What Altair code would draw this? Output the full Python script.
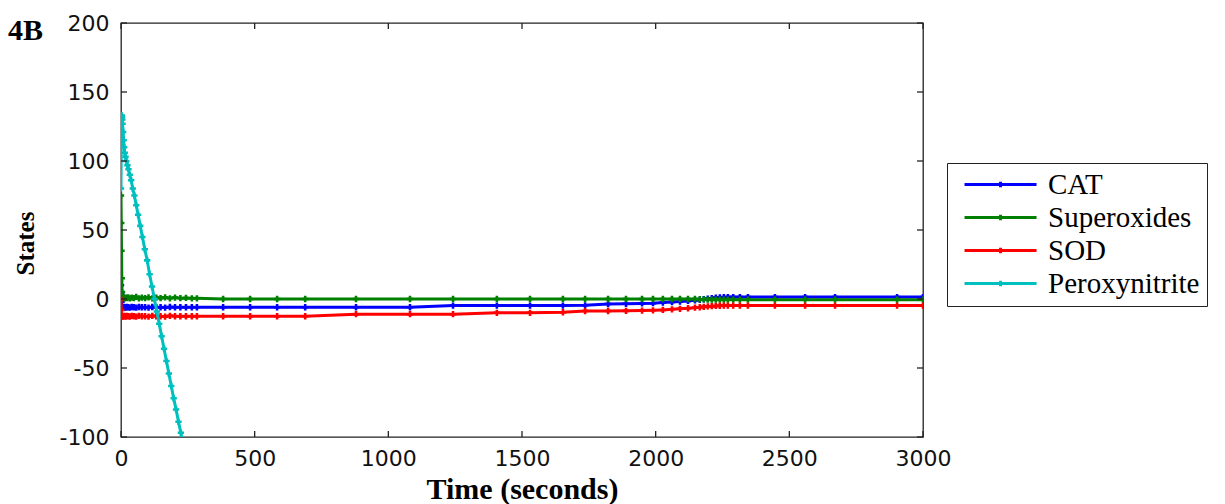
import altair as alt
import pandas as pd

# ---------------- data ----------------
series_names = ["CAT", "Superoxides", "SOD", "Peroxynitrite"]
series_colors = ["#0000FF", "#008000", "#FF0000", "#00BFBF"]

# shared solver time steps for CAT / Superoxides / SOD
t_main = [0, 1, 2, 3, 4, 6, 8, 11, 14, 18, 22, 27, 33, 40, 48, 57, 67, 78, 90,
          103, 117, 132, 148, 165, 183, 202, 222, 243, 265, 284,
          382, 483, 584, 689, 879, 1081, 1242, 1406, 1530, 1653, 1736, 1822,
          1889, 1949, 1990, 2027, 2061, 2091, 2121, 2147, 2165, 2180, 2195,
          2210, 2225, 2240, 2255, 2270, 2290, 2315, 2345, 2446, 2559, 2671,
          2903, 3000]

cat_vals = [10, 4, -2, -5, -6, -6, -6.2, -5.8, -6, -6.2, -5.8, -6, -6.2, -5.8,
            -6, -6.2, -5.8, -6, -6, -6.2, -5.8, -6, -6, -6.2, -5.8, -6, -6,
            -6, -6, -6,
            -6, -6, -6, -6, -6, -6, -4.8, -4.8, -4.8, -4.8, -4.6, -3.6,
            -3.5, -3.2, -3.0, -2.6, -2.2, -1.8, -1.4, -1.0, -0.6, -0.2, 0.2,
            0.6, 1.0, 1.2, 1.3, 1.4, 1.4, 1.4, 1.4, 1.4, 1.4, 1.4,
            1.4, 1.4]

sup_vals = [75, 55, 35, 15, 5, 1.5, 0.8, 1.2, 0.5, 1.0, 0.6, 1.2, 0.5, 1.0,
            0.6, 1.5, 0.5, 1.0, 0.6, 1.2, 0.5, 1.0, 0.6, 1.2, 0.5, 1.0, 0.6,
            0.8, 0.5, 0.5,
            0, 0, 0, 0, 0, 0, 0, 0, 0, 0, 0, 0,
            0, 0, 0, 0, 0, 0, 0, 0, -0.2, -0.3, -0.4,
            -0.5, -0.5, -0.5, -0.5, -0.5, -0.5, -0.5, -0.5, -0.5, -0.5, -0.5,
            -0.5, -0.5]

sod_vals = [0, -8, -12, -12.5, -12.5, -12.5, -12.8, -12.2, -12.5, -12.8, -12.2,
            -12.5, -12.8, -12.2, -12.5, -12.8, -12.2, -12.5, -12.5, -12.8,
            -12.2, -12.5, -12.5, -12.8, -12.2, -12.5, -12.5, -12.5, -12.5, -12.5,
            -12.5, -12.5, -12.5, -12.5, -11, -11, -11, -10, -10, -9.6, -8.7, -8.7,
            -8.6, -8.4, -8.2, -7.9, -7.5, -7.1, -6.7, -6.3, -6.0, -5.7, -5.4,
            -5.2, -5.0, -4.9, -4.8, -4.8, -4.8, -4.8, -4.8, -4.8, -4.8, -4.8,
            -4.8, -4.8]

t_perox = [0, 1, 2, 3, 4, 5, 6, 8, 10, 12, 14, 17, 20, 24, 28, 33, 38, 44, 50,
           57, 64, 72, 80, 89, 98, 107, 116, 125, 134, 143, 152, 161, 170, 179,
           188, 197, 206, 215, 224, 233, 242]
perox_vals = [80, 115, 130, 133, 132, 130, 127, 121, 115, 110, 106, 103, 100,
              97, 94, 90, 86, 80, 75, 68, 61, 53, 45, 36, 28, 18, 9, 0, -9,
              -18, -27, -36, -45, -54, -63, -72, -80, -89, -97, -106, -115]

x_ticks = [0, 500, 1000, 1500, 2000, 2500, 3000]
y_ticks = [-100, -50, 0, 50, 100, 150, 200]

panel_label = "4B"

# ---------------- chart ----------------
W, H = 802, 414

frames = {
    "CAT": pd.DataFrame({"t": t_main, "v": cat_vals, "series": "CAT"}),
    "Superoxides": pd.DataFrame({"t": t_main, "v": sup_vals, "series": "Superoxides"}),
    "SOD": pd.DataFrame({"t": t_main, "v": sod_vals, "series": "SOD"}),
    "Peroxynitrite": pd.DataFrame({"t": t_perox, "v": perox_vals, "series": "Peroxynitrite"}),
}

x_scale = alt.Scale(domain=[0, 3000], nice=False, zero=False)
y_scale = alt.Scale(domain=[-100, 200], nice=False, zero=False)

x_axis = alt.Axis(values=x_ticks, ticks=False, domain=False, grid=False,
                  labelExpr="datum.value + ''",
                  labelFont="DejaVu Sans", labelFontSize=22, labelColor="#111",
                  labelPadding=11, labelFlush=False,
                  title="Time (seconds)", titleFont="Liberation Serif",
                  titleFontSize=30, titleFontWeight="bold", titleColor="black",
                  titlePadding=5)
y_axis = alt.Axis(values=y_ticks, ticks=False, domain=False, grid=False,
                  labelExpr="datum.value + ''",
                  labelFont="DejaVu Sans", labelFontSize=22, labelColor="#111",
                  labelPadding=12, labelFlush=False,
                  title="States", titleFont="Liberation Serif",
                  titleFontSize=25, titleFontWeight="bold", titleColor="black",
                  titlePadding=21, titleY=220)

# legend symbol: a long line with a small marker tick in the middle
legend_symbol = "M-0.33,0H5.67M2.67,-0.22V0.22"
color_scale = alt.Scale(domain=series_names, range=series_colors)
legend = alt.Legend(title=None, orient="none", legendX=826, legendY=140,
                    symbolType=legend_symbol, symbolSize=576, symbolStrokeWidth=3,
                    labelFont="Liberation Serif", labelFontSize=29,
                    labelColor="black", strokeColor="#222", fillColor="white",
                    padding=7, rowPadding=3, labelOffset=65, labelLimit=400)

layers = []
for name in series_names:
    layers.append(
        alt.Chart(frames[name]).mark_line(
            strokeWidth=3, clip=True,
            point=alt.OverlayMarkDef(shape="cross", size=40, filled=True, clip=True),
        ).encode(
            x=alt.X("t:Q", scale=x_scale, axis=x_axis),
            y=alt.Y("v:Q", scale=y_scale, axis=y_axis),
            color=alt.Color("series:N", scale=color_scale, legend=legend),
        )
    )

tick_x = pd.DataFrame({"t": x_ticks})
tick_y = pd.DataFrame({"v": y_ticks})
tick_style = dict(color="#222", strokeWidth=1.3)

bottom_ticks = alt.Chart(tick_x).mark_rule(**tick_style).encode(
    x=alt.X("t:Q", scale=x_scale, axis=x_axis), y=alt.value(H), y2=alt.value(H - 6))
top_ticks = alt.Chart(tick_x).mark_rule(**tick_style).encode(
    x=alt.X("t:Q", scale=x_scale, axis=x_axis), y=alt.value(0), y2=alt.value(6))
left_ticks = alt.Chart(tick_y).mark_rule(**tick_style).encode(
    y=alt.Y("v:Q", scale=y_scale, axis=y_axis), x=alt.value(0), x2=alt.value(6))
right_ticks = alt.Chart(tick_y).mark_rule(**tick_style).encode(
    y=alt.Y("v:Q", scale=y_scale, axis=y_axis), x=alt.value(W), x2=alt.value(W - 6))

label = alt.Chart(pd.DataFrame({"label": [panel_label]})).mark_text(
    align="left", baseline="alphabetic", font="Liberation Serif", fontSize=30,
    fontWeight="bold", color="black",
).encode(text="label:N", x=alt.value(-113), y=alt.value(17))

chart = alt.layer(*layers, bottom_ticks, top_ticks, left_ticks, right_ticks, label).properties(
    width=W, height=H,
    autosize=alt.AutoSizeParams(type="none"),
    padding={"left": 121, "top": 23, "right": 302, "bottom": 67},
    background="white",
).configure_view(stroke="#222", strokeWidth=1.3)

chart.save("out.html", embed_options={"renderer": "svg", "actions": False})
